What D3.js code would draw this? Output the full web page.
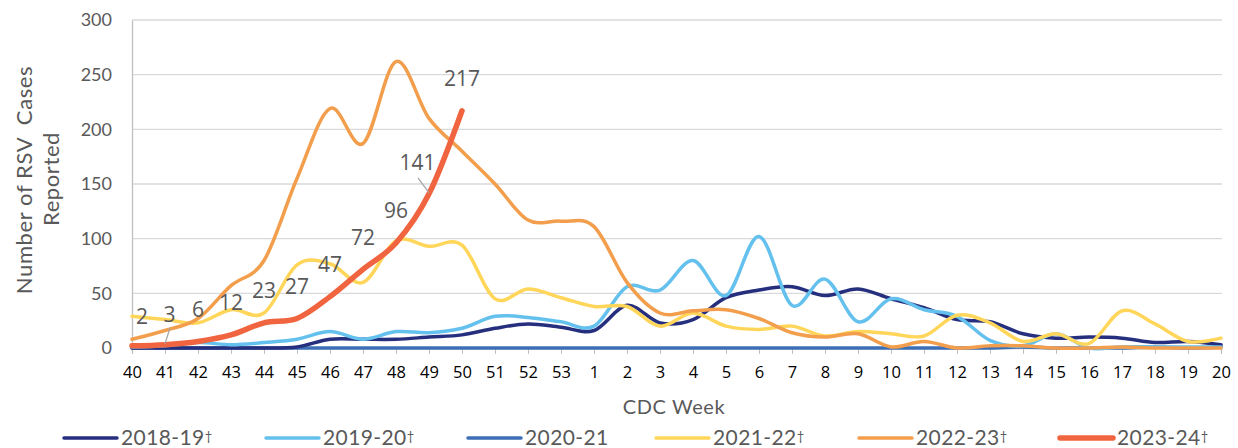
<!DOCTYPE html>
<html>
<head>
<meta charset="utf-8">
<script src="https://cdn.jsdelivr.net/npm/d3@7"></script>
<style>
  body { margin: 0; background: #fff; }
  svg { display: block; font-family: Lato, "Open Sans", sans-serif; }
</style>
</head>
<body>
<svg width="1238" height="448"></svg>
<script>
const weeks = ["40","41","42","43","44","45","46","47","48","49","50","51","52","53",
  "1","2","3","4","5","6","7","8","9","10","11","12","13","14","15","16","17","18","19","20"];

const s2018 = [0,0,0,0,0,1,8,8,8,10,12,18,22,19,16,39,23,26,46,53,56,48,54,45,37,26,24,13,9,10,9,5,6,3];
const s2019 = [1,2,5,3,5,8,15,8,15,14,18,29,28,24,20,56,53,80,48,102,39,63,24,45,35,29,7,2,13,0,1,1,1,1];
const s2020 = [0,0,0,0,0,0,0,0,0,0,0,0,0,0,0,0,0,0,0,0,0,0,0,0,0,0,0,1,0,0,0,1,0,1];
const s2021 = [29,26,23,35,32,76,77,60,98,93,94,45,54,46,38,38,20,32,20,17,20,11,15,13,11,30,23,6,13,4,34,22,6,9];
const s2022 = [8,16,27,57,80,155,219,187,262,210,180,150,117,116,111,60,32,34,35,27,14,10,13,1,6,0,2,2,0,0,1,0,0,0];
const s2023 = [2,3,6,12,23,27,47,72,96,141,217];

const seriesNames = ["2018-19","2019-20","2020-21","2021-22","2022-23","2023-24"];
const seriesDagger = [true, true, false, true, true, true];
const seriesColors = ["#262f7e","#64c1ee","#3d6fb6","#ffd659","#f29e4c","#f0643f"];
const seriesWidths = [3.5,3.5,3.5,3.5,3.5,5.5];
const yTicks = [0,50,100,150,200,250,300];

const allSeries = [s2018, s2019, s2020, s2021, s2022, s2023];

const svg = d3.select("svg");
const plotLeft = 132, plotRight = 1221, plotTop = 20, plotBottom = 348;

const x = d3.scalePoint().domain(weeks).range([plotLeft, plotRight]);
const y = d3.scaleLinear().domain([0, 300]).range([plotBottom, plotTop]);

// gridlines
svg.append("g")
  .selectAll("line")
  .data(yTicks.slice(1))
  .join("line")
  .attr("x1", plotLeft).attr("x2", plotRight + 1)
  .attr("y1", d => y(d)).attr("y2", d => y(d))
  .attr("stroke", "#d9d9d9").attr("stroke-width", 1.3);

// y axis
const yAxis = svg.append("g")
  .attr("transform", `translate(${plotLeft},0)`)
  .call(d3.axisLeft(y).tickValues(yTicks).tickSize(0).tickPadding(20));
yAxis.select(".domain").attr("stroke", "#bfbfbf").attr("stroke-width", 1.3);
yAxis.selectAll("text").attr("fill", "#595959").style("font-size", "18px").style("font-family", "Lato, sans-serif");

// x axis
const xAxis = svg.append("g")
  .attr("transform", `translate(0,${plotBottom})`)
  .call(d3.axisBottom(x).tickSize(6).tickPadding(12));
xAxis.select(".domain").attr("stroke", "#bfbfbf").attr("stroke-width", 1.3);
xAxis.selectAll(".tick line").attr("stroke", "#bfbfbf");
xAxis.selectAll("text").attr("fill", "#000").style("font-size", "16.5px").style("font-family", "'Open Sans', sans-serif");

// axis titles
svg.append("text")
  .attr("transform", "translate(32,180) rotate(-90)")
  .attr("text-anchor", "middle")
  .attr("fill", "#595959")
  .style("font-size", "22px")
  .style("letter-spacing", "0.6px")
  .text("Number of RSV\u00a0\u00a0Cases");
svg.append("text")
  .attr("transform", "translate(59,179) rotate(-90)")
  .attr("text-anchor", "middle")
  .attr("fill", "#595959")
  .style("font-size", "22px")
  .style("letter-spacing", "0.6px")
  .text("Reported");
svg.append("text")
  .attr("x", 674).attr("y", 414)
  .attr("text-anchor", "middle")
  .attr("fill", "#595959")
  .style("font-size", "20px")
  .style("letter-spacing", "0.6px")
  .text("CDC Week");

// lines
const line = d3.line()
  .x((d, i) => x(weeks[i]))
  .y(d => y(d))
  .curve(d3.curveCatmullRom.alpha(0));

const order = [2, 0, 1, 3, 4, 5];
order.forEach(k => {
  svg.append("path")
    .datum(allSeries[k])
    .attr("fill", "none")
    .attr("stroke", seriesColors[k])
    .attr("stroke-width", seriesWidths[k])
    .attr("stroke-linecap", "round")
    .attr("stroke-linejoin", "round")
    .attr("d", line);
});

// data labels for 2023-24
const labelDx = [10, 4.5, 0, 0, 0, 0, 0, 0, 0, -11.5, 0];
const labelDy = [-22, -23, -24, -25, -25, -24.5, -25, -24, -25, -24, -25];
svg.append("g")
  .selectAll("text")
  .data(s2023)
  .join("text")
  .attr("x", (d, i) => x(weeks[i]) + labelDx[i])
  .attr("y", (d, i) => y(d) + labelDy[i])
  .attr("text-anchor", "middle")
  .attr("fill", "#595959")
  .style("font-size", "21px")
  .style("font-family", "'Open Sans', sans-serif")
  .text(d => d);

// leader lines
svg.append("line")
  .attr("x1", x("41") + 5).attr("y1", y(3) - 17)
  .attr("x2", x("41")).attr("y2", y(3) - 1)
  .attr("stroke", "#a6a6a6").attr("stroke-width", 1.3);
svg.append("line")
  .attr("x1", x("49") - 11).attr("y1", y(141) - 16)
  .attr("x2", x("49")).attr("y2", y(141) - 1)
  .attr("stroke", "#a6a6a6").attr("stroke-width", 1.3);

// legend
const legendX = [64, 266, 468, 656, 859, 1060];
const legend = svg.append("g")
  .selectAll("g")
  .data(seriesNames)
  .join("g")
  .attr("transform", (d, i) => `translate(${legendX[i]},438)`);
legend.append("line")
  .attr("x1", 0).attr("x2", 53)
  .attr("stroke", (d, i) => seriesColors[i])
  .attr("stroke-width", (d, i) => i === 5 ? 5.5 : 3.5)
  .attr("stroke-linecap", "round");
const legendText = legend.append("text")
  .attr("x", 57).attr("dy", "0.35em")
  .attr("fill", "#595959")
  .style("font-size", "21px")
  .style("letter-spacing", "0.4px")
  .text(d => d);
legendText.filter((d, i) => seriesDagger[i])
  .append("tspan")
  .attr("dy", "-0.35em")
  .style("font-size", "13px")
  .text("\u2020");
</script>
</body>
</html>
